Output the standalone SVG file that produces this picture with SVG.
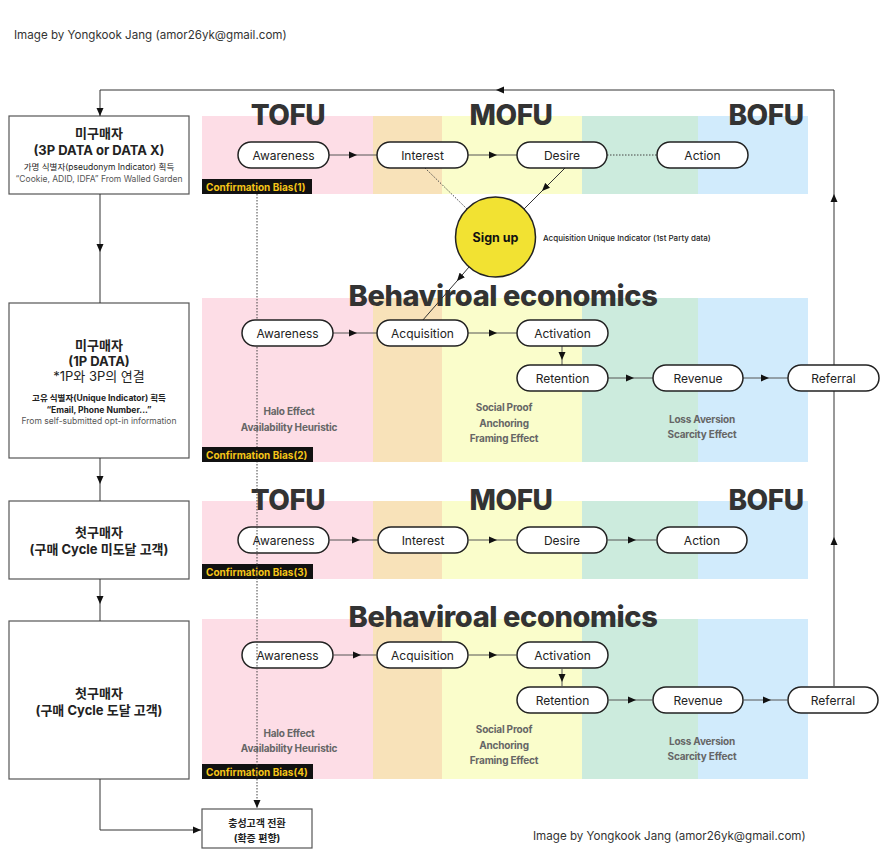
<svg xmlns="http://www.w3.org/2000/svg" width="886" height="866" viewBox="0 0 886 866">
<defs>
<marker id="ah" viewBox="0 0 8 8" refX="8" refY="4" markerWidth="8" markerHeight="8" markerUnits="userSpaceOnUse" orient="auto">
<path d="M0,0.5 L8,4 L0,7.5 z" fill="#111"/>
</marker>
<style>
text{font-family:Inter,"Noto Sans CJK KR","Noto Sans",sans-serif;}
.pink{fill:#FDDDE6}.orng{fill:#F8E2B9}.yell{fill:#FAFDCB}.gren{fill:#CCEBDD}.blue{fill:#D1EBFC}
.title{font-size:28px;font-weight:800;fill:#333;text-anchor:middle;letter-spacing:-0.5px}
.be{font-size:29px;font-weight:800;fill:#333;text-anchor:middle;letter-spacing:-0.4px}
.pill rect{fill:#fff;stroke:#222;stroke-width:1.5}
.pill text{font-size:12px;fill:#222;text-anchor:middle}
.cb rect{fill:#111}
.cb text{font-size:10px;font-weight:700;fill:#F5C518}
.eff{font-size:10px;font-weight:700;fill:#666;text-anchor:middle;letter-spacing:-0.2px}
.box rect{fill:#fff;stroke:#555;stroke-width:1.2}
.box text{text-anchor:middle;fill:#222}
.b13{font-size:13px;font-weight:700}
.r13{font-size:13px}
.s8{font-size:8.5px;fill:#444}
.s8b{font-size:8.5px;font-weight:700}
.ln{fill:none;stroke:#555;stroke-width:1}
.lnk{fill:none;stroke:#333;stroke-width:1}
.dot{fill:none;stroke:#444;stroke-width:1;stroke-dasharray:1.5 1.5}
.credit{font-size:11.6px;fill:#333}
</style>
</defs>
<rect width="886" height="866" fill="#fff"/>

<text class="credit" x="14" y="39">Image by Yongkook Jang (amor26yk@gmail.com)</text>
<text class="credit" x="533" y="840">Image by Yongkook Jang (amor26yk@gmail.com)</text>

<!-- bands -->
<g id="bands">
<rect class="pink" x="202" y="116" width="171" height="78"/>
<rect class="orng" x="373" y="116" width="69" height="78"/>
<rect class="yell" x="442" y="116" width="140" height="78"/>
<rect class="gren" x="582" y="116" width="116" height="78"/>
<rect class="blue" x="698" y="116" width="110" height="78"/>

<rect class="pink" x="202" y="298" width="171" height="164"/>
<rect class="orng" x="373" y="298" width="69" height="164"/>
<rect class="yell" x="442" y="298" width="140" height="164"/>
<rect class="gren" x="582" y="298" width="116" height="164"/>
<rect class="blue" x="698" y="298" width="110" height="164"/>

<rect class="pink" x="202" y="501" width="171" height="78"/>
<rect class="orng" x="373" y="501" width="69" height="78"/>
<rect class="yell" x="442" y="501" width="140" height="78"/>
<rect class="gren" x="582" y="501" width="116" height="78"/>
<rect class="blue" x="698" y="501" width="110" height="78"/>

<rect class="pink" x="202" y="619" width="171" height="160"/>
<rect class="orng" x="373" y="619" width="69" height="160"/>
<rect class="yell" x="442" y="619" width="140" height="160"/>
<rect class="gren" x="582" y="619" width="116" height="160"/>
<rect class="blue" x="698" y="619" width="110" height="160"/>
</g>

<g id="titles">
<text class="title" x="288" y="125">TOFU</text>
<text class="title" x="511" y="125">MOFU</text>
<text class="title" x="766" y="125">BOFU</text>
<text class="be" x="503" y="306">Behaviroal economics</text>
<text class="title" x="288" y="510">TOFU</text>
<text class="title" x="511" y="510">MOFU</text>
<text class="title" x="766" y="510">BOFU</text>
<text class="be" x="503" y="627">Behaviroal economics</text>
</g>

<g id="effects">
<text class="eff" x="289" y="415">Halo Effect</text>
<text class="eff" x="289" y="431">Availability Heuristic</text>
<text class="eff" x="504" y="411">Social Proof</text>
<text class="eff" x="504" y="427">Anchoring</text>
<text class="eff" x="504" y="442">Framing Effect</text>
<text class="eff" x="702" y="423">Loss Aversion</text>
<text class="eff" x="702" y="438">Scarcity Effect</text>

<text class="eff" x="289" y="737">Halo Effect</text>
<text class="eff" x="289" y="752">Availability Heuristic</text>
<text class="eff" x="504" y="733">Social Proof</text>
<text class="eff" x="504" y="749">Anchoring</text>
<text class="eff" x="504" y="764">Framing Effect</text>
<text class="eff" x="702" y="745">Loss Aversion</text>
<text class="eff" x="702" y="760">Scarcity Effect</text>
</g>

<!-- row 3 & 4 nodes (under the dotted line) -->
<g id="r3-awareness" class="pill"><rect x="238" y="527" width="91" height="26" rx="13"/><text x="283.5" y="544.5">Awareness</text></g>
<g id="r3-interest" class="pill"><rect x="378" y="527" width="90" height="26" rx="13"/><text x="423" y="544.5">Interest</text></g>
<g id="r3-desire" class="pill"><rect x="517" y="527" width="90" height="26" rx="13"/><text x="562" y="544.5">Desire</text></g>
<g id="r3-action" class="pill"><rect x="657" y="527" width="90" height="26" rx="13"/><text x="702" y="544.5">Action</text></g>
<g id="cb3" class="cb"><rect x="202" y="564" width="111" height="15"/><text x="206" y="575.5">Confirmation Bias(3)</text></g>

<g id="r4-awareness" class="pill"><rect x="242" y="642" width="91" height="26" rx="13"/><text x="287.5" y="659.5">Awareness</text></g>
<g id="r4-acquisition" class="pill"><rect x="377" y="642" width="91" height="26" rx="13"/><text x="422.5" y="659.5">Acquisition</text></g>
<g id="r4-activation" class="pill"><rect x="517" y="642" width="91" height="26" rx="13"/><text x="562.5" y="659.5">Activation</text></g>
<g id="r4-retention" class="pill"><rect x="517" y="687" width="91" height="26" rx="13"/><text x="562.5" y="704.5">Retention</text></g>
<g id="r4-revenue" class="pill"><rect x="653" y="687" width="90" height="26" rx="13"/><text x="698" y="704.5">Revenue</text></g>
<g id="r4-referral" class="pill"><rect x="788" y="687" width="90" height="26" rx="13"/><text x="833" y="704.5">Referral</text></g>
<g id="cb4" class="cb"><rect x="202" y="764" width="111" height="15"/><text x="206" y="775.5">Confirmation Bias(4)</text></g>

<!-- left column boxes -->
<g id="box1" class="box">
<rect x="9" y="116" width="180" height="78"/>
<text class="b13" x="99" y="138">미구매자</text>
<text class="b13" x="99" y="155">(3P DATA or DATA X)</text>
<text class="s8" x="99" y="170">가명 식별자(pseudonym Indicator) 획득</text>
<text class="s8" x="99" y="182" style="fill:#555">“Cookie, ADID, IDFA” From Walled Garden</text>
</g>
<g id="box2" class="box">
<rect x="9" y="303" width="180" height="155"/>
<text class="b13" x="99" y="350">미구매자</text>
<text class="b13" x="99" y="366">(1P DATA)</text>
<text class="r13" x="99" y="381">*1P와 3P의 연결</text>
<text class="s8b" x="99" y="401">고유 식별자(Unique Indicator) 획득</text>
<text class="s8b" x="99" y="413">“Email, Phone Number...”</text>
<text class="s8" x="99" y="424" style="fill:#555">From self-submitted opt-in information</text>
</g>
<g id="box3" class="box">
<rect x="9" y="501" width="180" height="78"/>
<text class="b13" x="99" y="537">첫구매자</text>
<text class="b13" x="99" y="554">(구매 Cycle 미도달 고객)</text>
</g>
<g id="box4" class="box">
<rect x="9" y="621" width="180" height="158"/>
<text class="b13" x="99" y="698">첫구매자</text>
<text class="b13" x="99" y="715">(구매 Cycle 도달 고객)</text>
</g>
<g id="loyal" class="box">
<rect x="202" y="809" width="110" height="39"/>
<text class="s8b" x="257" y="827" style="font-size:10px">충성고객 전환</text>
<text class="s8b" x="257" y="842" style="font-size:10px">(확증 편향)</text>
</g>

<!-- connectors -->
<g id="connectors">
<polyline class="ln" points="329,155 357,155 377,155" marker-mid="url(#ah)"/>
<polyline class="ln" points="468,155 497,155 517,155" marker-mid="url(#ah)"/>
<line class="dot" x1="607" y1="155" x2="657" y2="155"/>
<line class="dot" x1="425" y1="168" x2="467" y2="209"/>
<polyline class="lnk" points="565,168 542,191 524,209" marker-mid="url(#ah)"/>
<polyline class="lnk" points="469,267 457,281 422,321" marker-mid="url(#ah)"/>

<polyline class="ln" points="333,333 357,333 377,333" marker-mid="url(#ah)"/>
<polyline class="ln" points="468,333 497,333 517,333" marker-mid="url(#ah)"/>
<polyline class="ln" points="562,346 562,360 562,365" marker-mid="url(#ah)"/>
<polyline class="ln" points="608,378 634,378 653,378" marker-mid="url(#ah)"/>
<polyline class="ln" points="743,378 769,378 788,378" marker-mid="url(#ah)"/>

<polyline class="ln" points="329,540 360,540 378,540" marker-mid="url(#ah)"/>
<polyline class="ln" points="468,540 497,540 517,540" marker-mid="url(#ah)"/>
<polyline class="ln" points="607,540 636,540 657,540" marker-mid="url(#ah)"/>

<polyline class="ln" points="333,655 361,655 377,655" marker-mid="url(#ah)"/>
<polyline class="ln" points="468,655 497,655 517,655" marker-mid="url(#ah)"/>
<polyline class="ln" points="562,668 562,682 562,687" marker-mid="url(#ah)"/>
<polyline class="ln" points="608,700 636,700 653,700" marker-mid="url(#ah)"/>
<polyline class="ln" points="743,700 771,700 788,700" marker-mid="url(#ah)"/>

<polyline class="lnk" points="100,194 100,252 100,303" marker-mid="url(#ah)"/>
<polyline class="lnk" points="100,458 100,484 100,501" marker-mid="url(#ah)"/>
<polyline class="lnk" points="100,579 100,604 100,621" marker-mid="url(#ah)"/>
<polyline class="lnk" points="100,779 100,830 201,830" marker-end="url(#ah)"/>

<polyline class="lnk" points="834,686 834,537" marker-end="url(#ah)"/>
<polyline class="lnk" points="834,537 834,194" marker-end="url(#ah)"/>
<polyline class="lnk" points="834,194 834,90 496,90" marker-end="url(#ah)"/>
<polyline class="lnk" points="496,90 100,90 100,116" marker-end="url(#ah)"/>

<line class="dot" x1="257" y1="194" x2="257" y2="808" marker-end="url(#ah)"/>
</g>

<!-- row 1 & 2 nodes -->
<g id="r1-awareness" class="pill"><rect x="238" y="142" width="91" height="26" rx="13"/><text x="283.5" y="159.5">Awareness</text></g>
<g id="r1-interest" class="pill"><rect x="377" y="142" width="91" height="26" rx="13"/><text x="422.5" y="159.5">Interest</text></g>
<g id="r1-desire" class="pill"><rect x="517" y="142" width="90" height="26" rx="13"/><text x="562" y="159.5">Desire</text></g>
<g id="r1-action" class="pill"><rect x="657" y="142" width="91" height="26" rx="13"/><text x="702.5" y="159.5">Action</text></g>
<g id="cb1" class="cb"><rect x="202" y="179" width="110" height="15"/><text x="206" y="190.5">Confirmation Bias(1)</text></g>

<g id="signup">
<circle cx="495.5" cy="237" r="40" fill="#F2E232" stroke="#222" stroke-width="1.5"/>
<text x="495.5" y="241.5" style="font-size:12.5px;font-weight:700;fill:#111;text-anchor:middle">Sign up</text>
<text x="543" y="241" style="font-size:8px;font-weight:500;fill:#222">Acquisition Unique Indicator (1st Party data)</text>
</g>

<g id="r2-awareness" class="pill"><rect x="242" y="320" width="91" height="26" rx="13"/><text x="287.5" y="337.5">Awareness</text></g>
<g id="r2-acquisition" class="pill"><rect x="377" y="320" width="91" height="26" rx="13"/><text x="422.5" y="337.5">Acquisition</text></g>
<g id="r2-activation" class="pill"><rect x="517" y="320" width="91" height="26" rx="13"/><text x="562.5" y="337.5">Activation</text></g>
<g id="r2-retention" class="pill"><rect x="517" y="365" width="91" height="26" rx="13"/><text x="562.5" y="382.5">Retention</text></g>
<g id="r2-revenue" class="pill"><rect x="653" y="365" width="90" height="26" rx="13"/><text x="698" y="382.5">Revenue</text></g>
<g id="r2-referral" class="pill"><rect x="788" y="365" width="91" height="26" rx="13"/><text x="833.5" y="382.5">Referral</text></g>
<g id="cb2" class="cb"><rect x="202" y="447" width="111" height="15"/><text x="206" y="458.5">Confirmation Bias(2)</text></g>
</svg>
